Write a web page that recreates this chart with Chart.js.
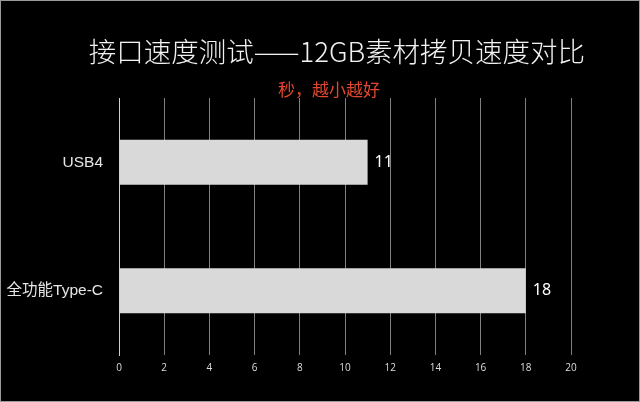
<!DOCTYPE html>
<html>
<head>
<meta charset="utf-8">
<script src="https://cdn.jsdelivr.net/npm/chart.js@4"></script>
<style>
  html, body { margin: 0; padding: 0; background: #000; }
  #wrap { position: relative; width: 640px; height: 402px; box-sizing: border-box; border: 1px solid #9a9a9a; }
  .head { position: absolute; left: 0; width: 638px; text-align: center; white-space: nowrap;
          font-family: "Noto Sans CJK SC", "Noto Sans", sans-serif; }
  #title { top: 32px; height: 34px; line-height: 34px; font-size: 27.5px; font-weight: 300;
           color: #f2f2f2; padding-left: 34px; box-sizing: border-box; }
  #subtitle { top: 78px; height: 20px; line-height: 20px; font-size: 17px;
              color: #e4472f; padding-left: 18px; box-sizing: border-box; }
</style>
</head>
<body>
<div id="wrap">
  <div id="title" class="head"></div>
  <div id="subtitle" class="head"></div>
  <canvas id="speedChart" width="638" height="400"></canvas>
</div>
<script>
const categories = ['USB4', '全功能Type-C'];
const copySeconds = [11, 18];
const xTicks = [0, 2, 4, 6, 8, 10, 12, 14, 16, 18, 20];
const titleText = '接口速度测试——12GB素材拷贝速度对比';
const subtitleText = '秒，越小越好';

document.getElementById('title').textContent = titleText;
document.getElementById('subtitle').textContent = subtitleText;

const labelFont = '"Liberation Sans", "Noto Sans CJK SC", sans-serif';

// prints the value just right of each bar
const valueLabels = {
  id: 'valueLabels',
  afterDatasetsDraw(chart) {
    const ctx = chart.ctx;
    const meta = chart.getDatasetMeta(0);
    ctx.save();
    ctx.fillStyle = '#ffffff';
    ctx.font = '16px "Noto Sans", sans-serif';
    ctx.textAlign = 'left';
    ctx.textBaseline = 'middle';
    meta.data.forEach((bar, i) => {
      ctx.fillText(String(copySeconds[i]), bar.x + 7, bar.y);
    });
    ctx.restore();
  }
};

new Chart(document.getElementById('speedChart'), {
  type: 'bar',
  data: {
    labels: categories,
    datasets: [{
      data: copySeconds,
      backgroundColor: '#d9d9d9',
      borderWidth: 0,
      categoryPercentage: 1,
      barPercentage: 0.35
    }]
  },
  options: {
    indexAxis: 'y',
    responsive: false,
    animation: false,
    layout: { padding: { left: 0, right: 68, top: 97, bottom: 20 } },
    plugins: {
      legend: { display: false },
      tooltip: { enabled: false }
    },
    scales: {
      x: {
        min: 0,
        max: 20,
        afterBuildTicks(scale) {
          scale.ticks = xTicks.map(v => ({ value: v }));
        },
        grid: { color: '#808080', lineWidth: 1, drawTicks: false },
        border: { display: false },
        ticks: {
          color: '#dddddd',
          padding: 7,
          font: { family: '"Open Sans", sans-serif', size: 10 }
        }
      },
      y: {
        afterFit(scale) { scale.width = 118; },
        grid: { display: false, drawTicks: false },
        border: { display: true, color: '#cfcfcf', width: 1 },
        ticks: {
          color: '#e6e6e6',
          padding: 16,
          font: { family: labelFont, size: 15.5 }
        }
      }
    }
  },
  plugins: [valueLabels]
});
</script>
</body>
</html>
